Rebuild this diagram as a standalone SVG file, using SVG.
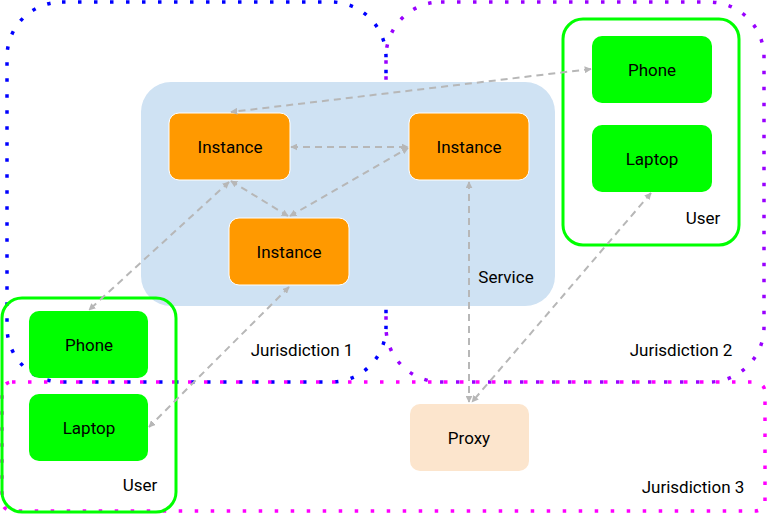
<svg xmlns="http://www.w3.org/2000/svg" width="774" height="521" viewBox="0 0 774 521">
<style>
.j{fill:none;stroke-width:3.5;stroke-dasharray:3.5 12.5}
.n{stroke:#fff;stroke-width:1}
.u{fill:none;stroke:#00ff00;stroke-width:3}
text{font-family:Roboto,"Liberation Sans",sans-serif;font-size:17px;fill:#000}
.c{text-anchor:middle;dominant-baseline:central}
#conn line{stroke:#b7b7b7;stroke-width:2;stroke-dasharray:7 5;marker-start:url(#a);marker-end:url(#a)}
</style>
<defs><marker id="a" viewBox="0 0 10 10" refX="9" refY="5" markerWidth="7" markerHeight="7" orient="auto-start-reverse" markerUnits="userSpaceOnUse" ><path d="M0,0L10,5L0,10z" fill="#b7b7b7" transform="scale(1)"/></marker></defs>
<g id="j1"><rect class="j" x="7" y="2" width="379" height="380" rx="55" stroke="#0000ff"/><text x="302" y="350" class="c">Jurisdiction 1</text></g>
<g id="j2"><rect class="j" x="386" y="2" width="378" height="380" rx="55" stroke="#9900ff"/><text x="681" y="350" class="c">Jurisdiction 2</text></g>
<g id="j3"><rect class="j" x="2" y="382" width="763" height="129" rx="10" stroke="#ff00ff"/><text x="693" y="487" class="c">Jurisdiction 3</text></g>
<g id="service"><rect x="141" y="82" width="414" height="224" rx="30" fill="#cfe2f3"/><text x="506" y="277" class="c">Service</text></g>
<g id="inst1"><rect class="n" x="169" y="113" width="121" height="67" rx="10" fill="#ff9900"/><text x="230" y="147" class="c">Instance</text></g>
<g id="inst2"><rect class="n" x="409" y="113" width="120" height="67" rx="10" fill="#ff9900"/><text x="469" y="147" class="c">Instance</text></g>
<g id="inst3"><rect class="n" x="229" y="218" width="120" height="67" rx="10" fill="#ff9900"/><text x="289" y="252" class="c">Instance</text></g>
<g id="user2"><rect class="u" x="563" y="19" width="176" height="226" rx="20"/><text x="703" y="218" class="c">User</text></g>
<g id="phone2"><rect x="592" y="36" width="120" height="67" rx="10" fill="#00ff00"/><text x="652" y="70" class="c">Phone</text></g>
<g id="laptop2"><rect x="592" y="125" width="120" height="67" rx="10" fill="#00ff00"/><text x="652" y="159" class="c">Laptop</text></g>
<g id="user1"><rect class="u" x="2" y="298" width="174" height="214" rx="20"/><text x="140" y="485" class="c">User</text></g>
<g id="phone1"><rect x="29" y="311" width="119" height="67" rx="10" fill="#00ff00"/><text x="89" y="345" class="c">Phone</text></g>
<g id="laptop1"><rect x="29" y="394" width="119" height="67" rx="10" fill="#00ff00"/><text x="89" y="428" class="c">Laptop</text></g>
<g id="proxy"><rect x="410" y="404" width="119" height="67" rx="10" fill="#fce5cd"/><text x="469" y="438" class="c">Proxy</text></g>
<g id="conn">
<line x1="591" y1="69" x2="231" y2="112"/>
<line x1="291" y1="147" x2="408" y2="147"/>
<line x1="231" y1="181" x2="288" y2="216"/>
<line x1="290" y1="216" x2="408" y2="148"/>
<line x1="229" y1="182" x2="89" y2="310"/>
<line x1="289" y1="287" x2="149" y2="427"/>
<line x1="469" y1="182" x2="469" y2="402"/>
<line x1="651" y1="193" x2="472" y2="402"/>
</g>
</svg>
